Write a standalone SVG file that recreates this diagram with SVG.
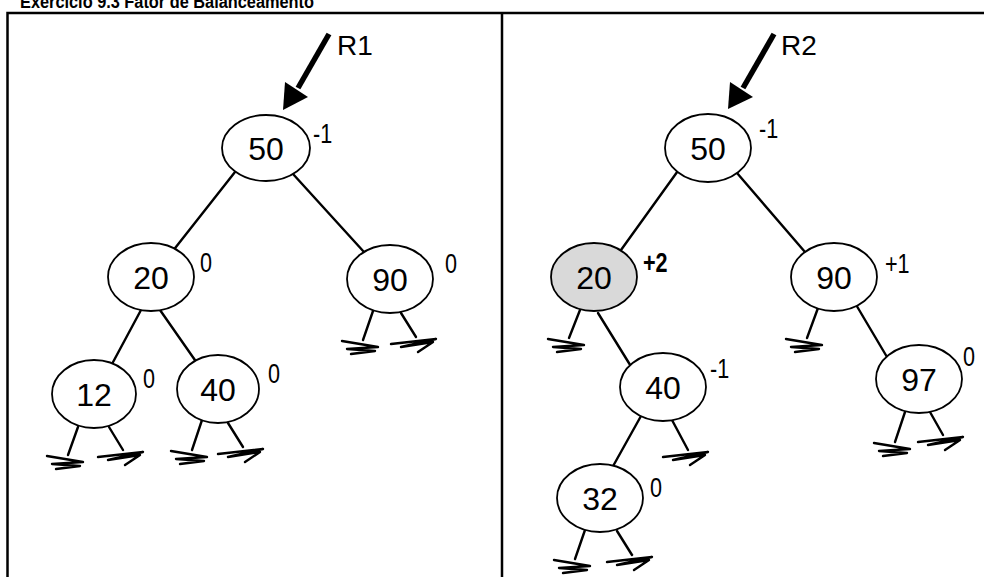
<svg xmlns="http://www.w3.org/2000/svg" xmlns:xlink="http://www.w3.org/1999/xlink" width="984" height="577" viewBox="0 0 984 577">
<style>
.frame{fill:none;stroke:#000;stroke-width:2.5}
.edge{stroke:#000;stroke-width:2.4;fill:none;stroke-linecap:round}
.gnd{stroke:#000;stroke-width:2.4;fill:none;stroke-linejoin:round;stroke-linecap:round}
.node{fill:#fff;stroke:#000;stroke-width:1.8}
.hot{fill:#d9d9d9}
.val{font-family:"Liberation Sans",Arial,sans-serif;font-size:32px;text-anchor:middle}
.bf{font-family:"Liberation Sans",Arial,sans-serif;font-size:27px}
.bold{font-weight:bold}
.root{font-family:"Liberation Sans",Arial,sans-serif;font-size:28px}
.title{font-family:"Liberation Sans",Arial,sans-serif;font-size:18px;font-weight:bold}
</style>
<defs>
<polyline id="gL" class="gnd" points="-21,1 15,7 -16,9 12,11 -12,14"/>
<polyline id="gR" class="gnd" points="-25,7 20,2 -15,10 17,5 2,15"/>
</defs>
<text class="title" x="20" y="8" textLength="294" lengthAdjust="spacingAndGlyphs">Exercício 9.3 Fator de Balanceamento</text>
<g id="frame">
<rect class="frame" x="7.5" y="13" width="990" height="580"/>
<line class="frame" x1="502" y1="13" x2="502" y2="577" stroke-width="2.7"/>
</g>
<g id="connectors">
<line x1="329" y1="34" x2="298" y2="88" stroke="#000" stroke-width="5.5"/>
<polygon points="283,110 285,82 308,97" fill="#000"/>
<line x1="774" y1="34" x2="743" y2="88" stroke="#000" stroke-width="5.5"/>
<polygon points="728,109 730,82 753,97" fill="#000"/>
<line class="edge" x1="235" y1="172" x2="172" y2="252"/>
<line class="edge" x1="293" y1="174" x2="364" y2="252"/>
<line class="edge" x1="141" y1="310" x2="112" y2="364"/>
<line class="edge" x1="160" y1="310" x2="197" y2="363"/>
<line class="edge" x1="78" y1="427" x2="68" y2="455"/>
<line class="edge" x1="109" y1="427" x2="123" y2="450"/>
<line class="edge" x1="202" y1="420" x2="192" y2="450"/>
<line class="edge" x1="228" y1="423" x2="243" y2="447"/>
<line class="edge" x1="373" y1="311" x2="363" y2="340"/>
<line class="edge" x1="401" y1="313" x2="416" y2="337"/>
<use xlink:href="#gL" x="68" y="455"/>
<use xlink:href="#gR" x="123" y="450"/>
<use xlink:href="#gL" x="192" y="450"/>
<use xlink:href="#gR" x="243" y="447"/>
<use xlink:href="#gL" x="363" y="340"/>
<use xlink:href="#gR" x="416" y="337"/>
<line class="edge" x1="680" y1="168" x2="621" y2="250"/>
<line class="edge" x1="737" y1="173" x2="805" y2="252"/>
<line class="edge" x1="580" y1="310" x2="569" y2="338"/>
<line class="edge" x1="598" y1="313" x2="632" y2="368"/>
<line class="edge" x1="818" y1="308" x2="807" y2="338"/>
<line class="edge" x1="855" y1="303" x2="887" y2="357"/>
<line class="edge" x1="641" y1="416" x2="612" y2="468"/>
<line class="edge" x1="672" y1="420" x2="688" y2="450"/>
<line class="edge" x1="905" y1="412" x2="895" y2="442"/>
<line class="edge" x1="930" y1="412" x2="943" y2="435"/>
<line class="edge" x1="585" y1="530" x2="575" y2="559"/>
<line class="edge" x1="617" y1="531" x2="632" y2="555"/>
<use xlink:href="#gL" x="569" y="338"/>
<use xlink:href="#gR" x="688" y="450"/>
<use xlink:href="#gL" x="807" y="338"/>
<use xlink:href="#gL" x="895" y="442"/>
<use xlink:href="#gR" x="943" y="435"/>
<use xlink:href="#gL" x="575" y="559"/>
<use xlink:href="#gR" x="632" y="555"/>
</g>
<text class="root" x="337" y="55">R1</text>
<text class="root" x="781" y="55">R2</text>
<g id="L50"><ellipse class="node" cx="266" cy="148" rx="44" ry="33"/><text class="val" x="266" y="160">50</text><text class="bf" transform="translate(313,143) scale(0.8,1)">-1</text></g>
<g id="L20"><ellipse class="node" cx="151" cy="277" rx="43" ry="34"/><text class="val" x="151" y="289">20</text><text class="bf" transform="translate(200,272) scale(0.8,1)">0</text></g>
<g id="L90"><ellipse class="node" cx="390" cy="279" rx="43" ry="34"/><text class="val" x="390" y="291">90</text><text class="bf" transform="translate(445,273) scale(0.8,1)">0</text></g>
<g id="L12"><ellipse class="node" cx="94" cy="394" rx="42" ry="34"/><text class="val" x="94" y="406">12</text><text class="bf" transform="translate(143,388) scale(0.8,1)">0</text></g>
<g id="L40"><ellipse class="node" cx="218" cy="389" rx="41" ry="34"/><text class="val" x="218" y="401">40</text><text class="bf" transform="translate(268,383) scale(0.8,1)">0</text></g>
<g id="R50"><ellipse class="node" cx="708" cy="148" rx="43" ry="34"/><text class="val" x="708" y="160">50</text><text class="bf" transform="translate(759,138) scale(0.8,1)">-1</text></g>
<g id="R20"><ellipse class="node hot" cx="594" cy="277" rx="43" ry="34"/><text class="val" x="594" y="289">20</text><text class="bf bold" transform="translate(643,272) scale(0.8,1)">+2</text></g>
<g id="R90"><ellipse class="node" cx="834" cy="277" rx="43" ry="34"/><text class="val" x="834" y="289">90</text><text class="bf" transform="translate(885,273) scale(0.8,1)">+1</text></g>
<g id="R40"><ellipse class="node" cx="663" cy="387" rx="43" ry="34"/><text class="val" x="663" y="399">40</text><text class="bf" transform="translate(710,378) scale(0.8,1)">-1</text></g>
<g id="R97"><ellipse class="node" cx="919" cy="379" rx="43" ry="34"/><text class="val" x="919" y="391">97</text><text class="bf" transform="translate(963,366) scale(0.8,1)">0</text></g>
<g id="R32"><ellipse class="node" cx="600" cy="498" rx="43" ry="34"/><text class="val" x="600" y="510">32</text><text class="bf" transform="translate(650,497) scale(0.8,1)">0</text></g>
</svg>
